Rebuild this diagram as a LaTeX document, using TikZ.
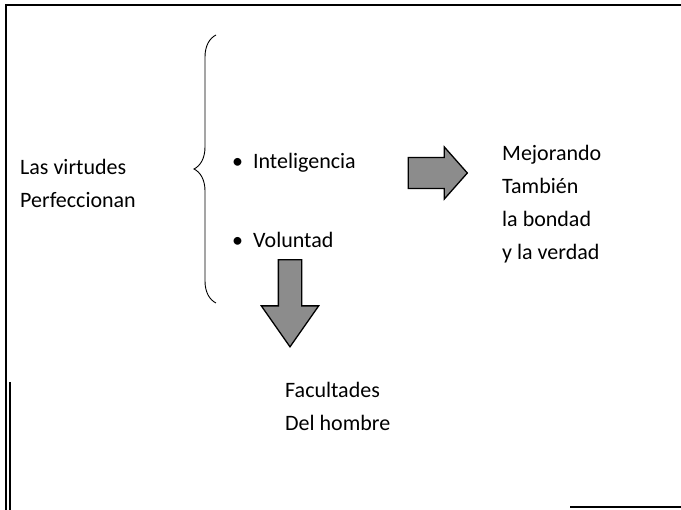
\documentclass[tikz,border=0pt]{standalone}
\usepackage{fontspec}
\setmainfont{Carlito}
\usetikzlibrary{positioning,shapes.arrows,decorations.pathreplacing}

\begin{document}
\begin{tikzpicture}[x=1pt, y=-1pt, font=\fontsize{22}{33}\selectfont,
  txt/.style={anchor=west, inner sep=0pt, align=left},
  bigarrow/.style={single arrow, draw=black, line width=1.3pt, fill=black!45,
                   inner xsep=0pt},
  frame/.style={line width=1.2pt}]
  \useasboundingbox (0,0) rectangle (681,510);
  \draw[frame] (681,5) -- (6,5) -- (6,510);
  \draw[line width=1.8pt] (10,382) -- (10,510);
  \draw[frame] (570,507) -- (681,507);
  \node[txt] (virt) at (20,183) {Las virtudes\\Perfeccionan};
  \draw[decorate, decoration={brace, amplitude=22pt}, line width=0.9pt] (216,303) -- (216,35);
  \node[txt] (intel) at (232,163) {\textbullet\ \ Inteligencia};
  \node[txt] (volun) at (232,240) {\textbullet\ \ Voluntad};
  \node[bigarrow, inner ysep=14pt, minimum height=59pt, minimum width=52pt,
        single arrow head extend=10pt, single arrow tip angle=97] (arrR) at (431,173) {};
  \node[txt] (mejor) at (502,204) {Mejorando\\También\\la bondad\\y la verdad};
  \node[bigarrow, inner ysep=11pt, minimum height=87pt, minimum width=56pt,
        single arrow head extend=17pt, single arrow tip angle=70,
        rotate=-90] (arrD) at (290,295) {};
  \node[txt] (facul) at (285,406) {Facultades\\Del hombre};
\end{tikzpicture}
\end{document}
